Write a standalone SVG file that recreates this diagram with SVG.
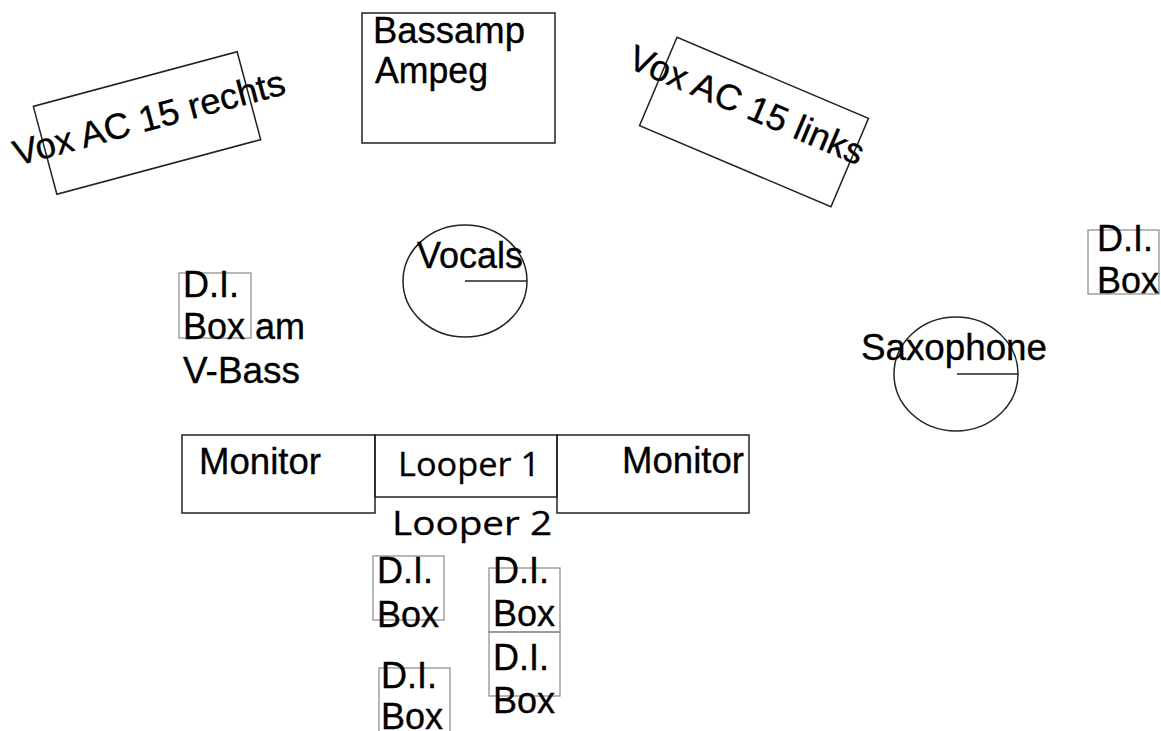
<svg xmlns="http://www.w3.org/2000/svg" width="1161" height="731" viewBox="0 0 1161 731">
<style>
.box{fill:none;stroke:#222;stroke-width:1.5}
.di{fill:none;stroke:#888;stroke-width:1.2}
.t{font-family:"Liberation Sans",Arial,sans-serif;font-size:36px;fill:#000;stroke:#000;stroke-width:0.35}
.o{font-family:"Open Sans","DejaVu Sans",sans-serif;font-size:33px;fill:#000;stroke:#000;stroke-width:0.3}
</style>
<rect width="1161" height="731" fill="#fff"/>
<g id="connectors"/>
<g id="vox-rechts">
<rect class="box" x="41.5" y="77.5" width="211" height="91" transform="rotate(-15 147 123)"/>
<text class="t" x="17" y="166" textLength="280" lengthAdjust="spacingAndGlyphs" transform="rotate(-15 17 166)">Vox AC 15 rechts</text>
</g>
<g id="bassamp">
<rect class="box" x="362" y="13" width="193" height="130"/>
<text class="t" x="373" y="43" textLength="152" lengthAdjust="spacingAndGlyphs">Bassamp</text>
<text class="t" x="375" y="83" textLength="113" lengthAdjust="spacingAndGlyphs">Ampeg</text>
</g>
<g id="vox-links">
<rect class="box" x="650" y="74" width="208" height="96" transform="rotate(23 754 122)"/>
<text class="t" x="626" y="67" textLength="252" lengthAdjust="spacingAndGlyphs" transform="rotate(23 626 67)">Vox AC 15 links</text>
</g>
<g id="vocals">
<ellipse class="box" cx="465" cy="281" rx="62" ry="56"/>
<line class="box" x1="465" y1="281" x2="527" y2="281"/>
<text class="t" x="417" y="268" textLength="106" lengthAdjust="spacingAndGlyphs">Vocals</text>
</g>
<g id="di-vbass">
<rect class="di" x="179" y="273" width="72" height="65"/>
<text class="t" x="183" y="297">D.I.</text>
<text class="t" x="183" y="339">Box am</text>
<text class="t" x="183" y="383" textLength="117" lengthAdjust="spacingAndGlyphs">V-Bass</text>
</g>
<g id="di-right">
<rect class="di" x="1088" y="230" width="71" height="64"/>
<text class="t" x="1097" y="251">D.I.</text>
<text class="t" x="1097" y="293">Box</text>
</g>
<g id="saxophone">
<ellipse class="box" cx="956" cy="374" rx="62" ry="57"/>
<line class="box" x1="957" y1="374" x2="1018" y2="374"/>
<text class="t" x="861" y="360" textLength="186" lengthAdjust="spacingAndGlyphs">Saxophone</text>
</g>
<g id="monitor-left">
<rect class="box" x="182" y="435" width="193" height="78"/>
<text class="t" x="199" y="474" textLength="122" lengthAdjust="spacingAndGlyphs">Monitor</text>
</g>
<g id="looper1">
<rect class="box" x="375" y="435" width="182" height="62"/>
<text class="o" x="398" y="476" textLength="142" lengthAdjust="spacingAndGlyphs">Looper 1</text>
</g>
<g id="monitor-right">
<rect class="box" x="557" y="435" width="192" height="78"/>
<text class="t" x="622" y="473" textLength="122" lengthAdjust="spacingAndGlyphs">Monitor</text>
</g>
<g id="looper2">
<text class="o" x="392" y="535" textLength="160" lengthAdjust="spacingAndGlyphs">Looper 2</text>
</g>
<g id="di-1">
<rect class="di" x="373" y="556" width="71" height="64"/>
<text class="t" x="377" y="583">D.I.</text>
<text class="t" x="377" y="627">Box</text>
</g>
<g id="di-2">
<rect class="di" x="489" y="568" width="71" height="64"/>
<text class="t" x="493" y="583">D.I.</text>
<text class="t" x="493" y="626">Box</text>
</g>
<g id="di-3">
<rect class="di" x="489" y="632" width="71" height="64"/>
<text class="t" x="493" y="670">D.I.</text>
<text class="t" x="493" y="713">Box</text>
</g>
<g id="di-4">
<rect class="di" x="379" y="668" width="71" height="64"/>
<text class="t" x="381" y="688">D.I.</text>
<text class="t" x="381" y="729">Box</text>
</g>
</svg>
